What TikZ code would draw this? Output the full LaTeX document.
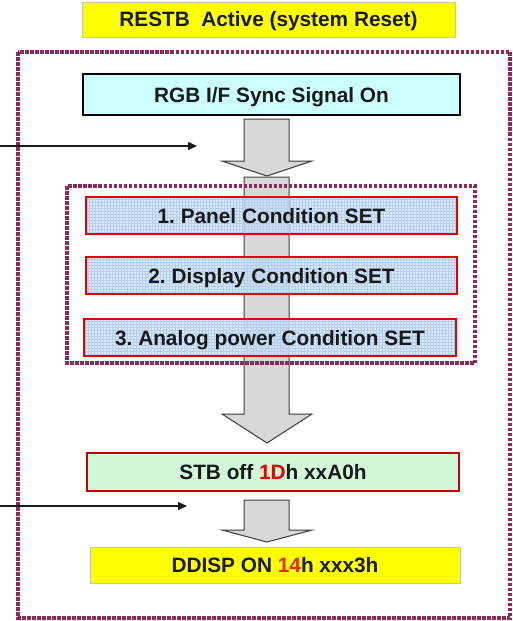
\documentclass[tikz,border=0pt]{standalone}
\usepackage{fontspec}
\setmainfont{Liberation Sans}
\usepackage{tikz}
\usetikzlibrary{arrows, arrows.meta}
\frenchspacing

\definecolor{titleyellow}{RGB}{255,255,0}
\definecolor{softedge}{RGB}{200,200,160}
\definecolor{rgbcyan}{RGB}{204,255,255}
\definecolor{condblue}{RGB}{206,226,248}
\definecolor{condgrid}{RGB}{180,206,238}
\definecolor{condred}{RGB}{226,0,0}
\definecolor{stbgreen}{RGB}{208,248,216}
\definecolor{stbred}{RGB}{196,0,0}
\definecolor{maroon}{RGB}{145,40,90}
\definecolor{arrowgray}{RGB}{216,216,216}
\definecolor{arrowedge}{RGB}{60,60,60}
\definecolor{hexred}{RGB}{230,0,0}
\definecolor{hexorange}{RGB}{225,45,0}
\definecolor{ink}{RGB}{25,25,25}

\begin{document}
\begin{tikzpicture}[x=1pt, y=-1pt]
\tikzstyle{label}=[font=\fontsize{20.8}{24}\selectfont\bfseries, text=ink, inner sep=0pt, text height=15pt, text depth=0pt]
\tikzstyle{banner}=[label, rectangle, fill=titleyellow, draw=softedge, line width=0.8pt]
\tikzstyle{cond}=[label, rectangle, draw=condred, line width=2.5pt, fill=condblue, fill opacity=0.75, text opacity=1,
  minimum height=37pt,
  path picture={\draw[condgrid, step=3pt, line width=0.3pt] (path picture bounding box.south west) grid (path picture bounding box.north east);}]
\tikzstyle{flow}=[fill=arrowgray, draw=arrowedge, line width=1pt]
\tikzstyle{frame}=[draw=maroon, line width=3.5pt, dash pattern=on 3.5pt off 1.5pt]
\tikzstyle{feed}=[draw=ink, line width=1.2pt, -{Triangle[length=9pt, width=8pt]}]

\useasboundingbox (0,0) rectangle (512,621);

% flow arrows (behind the boxes)
\draw[flow] (244,119) -- (289,119) -- (289,161) -- (312,161) -- (267,176) -- (222,161) -- (244,161) -- cycle;
\draw[flow] (244,177) -- (289,177) -- (289,414) -- (312,414) -- (267,443) -- (222,414) -- (244,414) -- cycle;
\draw[flow] (244,500) -- (289,500) -- (289,530) -- (312,530) -- (267,542) -- (222,530) -- (244,530) -- cycle;

\node[banner, minimum width=373pt, minimum height=35pt] (restb) at (268.5,19.5) {RESTB\ \ Active (system Reset)};
\node[label, rectangle, fill=rgbcyan, draw=black, line width=1.5pt, minimum width=377pt, minimum height=41pt] (rgb) at (271.5,94.5) {RGB I/F Sync Signal On};

\node[cond, minimum width=371pt] (panel) at (271.5,215.5) {1. Panel Condition SET};
\node[cond, minimum width=371pt] (disp) at (271.5,275.5) {2. Display Condition SET};
\node[cond, minimum width=372pt] (analog) at (270,337.5) {3. Analog power Condition SET};

\node[label, rectangle, fill=stbgreen, draw=stbred, line width=2.5pt, minimum width=372pt, minimum height=38pt] (stb) at (273,472) {STB off \textcolor{hexred}{1D}h xxA0h};
\node[banner, minimum width=370pt, minimum height=36pt] (ddisp) at (275,565) {DDISP ON \textcolor{hexorange}{14}h xxx3h};

% dashed frames
\draw[frame] (18,52) rectangle (510,618);
\draw[frame] (67,186) rectangle (475,363);

% incoming lines
\coordinate (in1) at (0,146);
\coordinate (in1end) at (197,146);
\coordinate (in2) at (0,506);
\coordinate (in2end) at (187,506);
\path
(in1) edge[feed] (in1end)
(in2) edge[feed] (in2end);

\end{tikzpicture}
\end{document}
